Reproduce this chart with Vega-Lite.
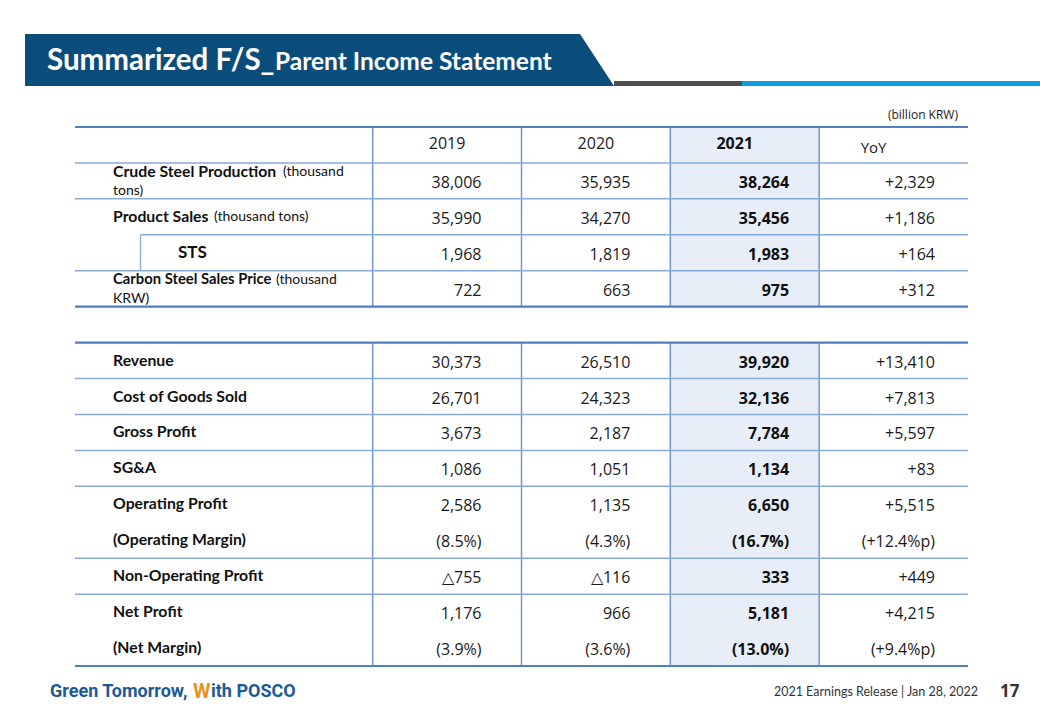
{
"$schema":"https://vega.github.io/schema/vega-lite/v6.json",
"padding":{"left":25,"top":33,"right":0,"bottom":0},
"background":"white",
"spacing":0,
"config":{"view":{"stroke":null},"concat":{"spacing":0}},
"datasets":{
 "rows":[
  {"row":"crude","label":"Crude Steel Production","note":"(thousand","note2":"tons)"},
  {"row":"sales","label":"Product Sales","note":"(thousand tons)","note2":""},
  {"row":"sts","label":"STS","note":"","note2":""},
  {"row":"price","label":"Carbon Steel Sales Price","note":"(thousand","note2":"KRW)"},
  {"row":"rev","label":"Revenue","note":"","note2":""},
  {"row":"cogs","label":"Cost of Goods Sold","note":"","note2":""},
  {"row":"gp","label":"Gross Profit","note":"","note2":""},
  {"row":"sga","label":"SG&A","note":"","note2":""},
  {"row":"op","label":"Operating Profit","note":"","note2":""},
  {"row":"opm","label":"(Operating Margin)","note":"","note2":""},
  {"row":"nop","label":"Non-Operating Profit","note":"","note2":""},
  {"row":"np","label":"Net Profit","note":"","note2":""},
  {"row":"npm","label":"(Net Margin)","note":"","note2":""}
 ],
 "header":[
  {"row":"hdr","col":"2019","value":"2019"},
  {"row":"hdr","col":"2020","value":"2020"},
  {"row":"hdr","col":"2021","value":"2021"},
  {"row":"hdr","col":"YoY","value":"YoY"}
 ],
 "values":[
  {"row":"crude","col":"2019","value":"38,006"},{"row":"crude","col":"2020","value":"35,935"},{"row":"crude","col":"2021","value":"38,264"},{"row":"crude","col":"YoY","value":"+2,329"},
  {"row":"sales","col":"2019","value":"35,990"},{"row":"sales","col":"2020","value":"34,270"},{"row":"sales","col":"2021","value":"35,456"},{"row":"sales","col":"YoY","value":"+1,186"},
  {"row":"sts","col":"2019","value":"1,968"},{"row":"sts","col":"2020","value":"1,819"},{"row":"sts","col":"2021","value":"1,983"},{"row":"sts","col":"YoY","value":"+164"},
  {"row":"price","col":"2019","value":"722"},{"row":"price","col":"2020","value":"663"},{"row":"price","col":"2021","value":"975"},{"row":"price","col":"YoY","value":"+312"},
  {"row":"rev","col":"2019","value":"30,373"},{"row":"rev","col":"2020","value":"26,510"},{"row":"rev","col":"2021","value":"39,920"},{"row":"rev","col":"YoY","value":"+13,410"},
  {"row":"cogs","col":"2019","value":"26,701"},{"row":"cogs","col":"2020","value":"24,323"},{"row":"cogs","col":"2021","value":"32,136"},{"row":"cogs","col":"YoY","value":"+7,813"},
  {"row":"gp","col":"2019","value":"3,673"},{"row":"gp","col":"2020","value":"2,187"},{"row":"gp","col":"2021","value":"7,784"},{"row":"gp","col":"YoY","value":"+5,597"},
  {"row":"sga","col":"2019","value":"1,086"},{"row":"sga","col":"2020","value":"1,051"},{"row":"sga","col":"2021","value":"1,134"},{"row":"sga","col":"YoY","value":"+83"},
  {"row":"op","col":"2019","value":"2,586"},{"row":"op","col":"2020","value":"1,135"},{"row":"op","col":"2021","value":"6,650"},{"row":"op","col":"YoY","value":"+5,515"},
  {"row":"opm","col":"2019","value":"(8.5%)"},{"row":"opm","col":"2020","value":"(4.3%)"},{"row":"opm","col":"2021","value":"(16.7%)"},{"row":"opm","col":"YoY","value":"(+12.4%p)"},
  {"row":"nop","col":"2019","value":"△755"},{"row":"nop","col":"2020","value":"△116"},{"row":"nop","col":"2021","value":"333"},{"row":"nop","col":"YoY","value":"+449"},
  {"row":"np","col":"2019","value":"1,176"},{"row":"np","col":"2020","value":"966"},{"row":"np","col":"2021","value":"5,181"},{"row":"np","col":"YoY","value":"+4,215"},
  {"row":"npm","col":"2019","value":"(3.9%)"},{"row":"npm","col":"2020","value":"(3.6%)"},{"row":"npm","col":"2021","value":"(13.0%)"},{"row":"npm","col":"YoY","value":"(+9.4%p)"}
 ],
 "sections":[{"row":"hdr","last":"price"},{"row":"rev","last":"npm"}],
 "vlines":[
  {"col":"2019","row":"hdr","last":"price"},{"col":"2020","row":"hdr","last":"price"},{"col":"2021","row":"hdr","last":"price"},{"col":"YoY","row":"hdr","last":"price"},
  {"col":"2019","row":"rev","last":"npm"},{"col":"2020","row":"rev","last":"npm"},{"col":"2021","row":"rev","last":"npm"},{"col":"YoY","row":"rev","last":"npm"}
 ],
 "hlines":[
  {"row":"hdr","kind":"thickTop"},{"row":"hdr","kind":"thin"},{"row":"crude","kind":"thin"},{"row":"sales","kind":"sub"},
  {"row":"sts","kind":"thin"},{"row":"price","kind":"thickBottom"},
  {"row":"rev","kind":"thickTop"},{"row":"rev","kind":"thin"},{"row":"cogs","kind":"thin"},{"row":"gp","kind":"thin"},
  {"row":"sga","kind":"thin"},{"row":"opm","kind":"thin"},{"row":"nop","kind":"thin"},{"row":"npm","kind":"thickBottom"}
 ],
 "notes":[
  {"row":"unit","key":"unit","text":"(billion KRW)"},
  {"row":"foot","key":"logoA","text":"Green Tomorrow,"},
  {"row":"foot","key":"logoW","text":"W"},
  {"row":"foot","key":"logoB","text":"ith POSCO"},
  {"row":"foot","key":"release","text":"2021 Earnings Release | Jan 28, 2022"},
  {"row":"foot","key":"page","text":"17"}
 ]
},
"vconcat":[
 {"hconcat":[
   {"width":555,"height":52,"data":{"values":[{"main":"Summarized F/S_","sub":"Parent Income Statement"}]},
    "layer":[
     {"mark":{"type":"rect","color":"#0b4d7a"},"encoding":{}},
     {"mark":{"type":"text","color":"#ffffff","font":"Lato","fontWeight":"bold","fontSize":29.5,"align":"left","baseline":"alphabetic","dx":-255.5,"dy":10},"encoding":{"text":{"field":"main"}}},
     {"mark":{"type":"text","color":"#ffffff","font":"Lato","fontWeight":"bold","fontSize":24.5,"align":"left","baseline":"alphabetic","dx":-27.5,"dy":10},"encoding":{"text":{"field":"sub"}}}
    ]},
   {"width":34,"height":52,"data":{"values":[{"part":"slant"}]},
    "mark":{"type":"point","filled":true,"opacity":1,"color":"#0b4d7a","strokeWidth":0,"shape":"M-1,-1.53L-1,1.53L1,1.53Z","size":1156},"encoding":{}},
   {"vconcat":[
     {"width":128,"height":47,"data":{"values":[{"part":"space"}]},"mark":{"type":"rect","opacity":0},"encoding":{}},
     {"width":128,"height":5,"data":{"values":[{"part":"gray"}]},"mark":{"type":"rect","color":"#4d5050"},"encoding":{}}
    ],"spacing":0},
   {"vconcat":[
     {"width":298,"height":47,"data":{"values":[{"part":"space"}]},"mark":{"type":"rect","opacity":0},"encoding":{}},
     {"width":298,"height":5,"data":{"values":[{"part":"blue"}]},"mark":{"type":"rect","color":"#0ea0dc"},"encoding":{}}
    ],"spacing":0}
  ],"spacing":0},
 {"width":993,"height":619,
  "layer":[
   {"data":{"name":"sections"},"mark":{"type":"rect","color":"#e7eef8"},
    "encoding":{
     "x":{"datum":"2021","type":"nominal","bandPosition":0,"scale":{"type":"band","domain":["item","item_b","2019","2020","2021","YoY"],"paddingInner":0,"paddingOuter":0.336},"axis":null},
     "x2":{"datum":"YoY","bandPosition":0},
     "y":{"field":"row","type":"nominal","bandPosition":0,"scale":{"type":"band","domain":["unit","hdr","crude","sales","sts","price","gap","rev","cogs","gp","sga","op","opm","nop","np","npm","foot"],"paddingInner":0,"paddingOuter":0.113},"axis":null},
     "y2":{"field":"last","bandPosition":1}}},
   {"data":{"name":"vlines"},"mark":{"type":"rule","color":"#6f97cc","strokeWidth":1.5},
    "encoding":{
     "x":{"field":"col","type":"nominal","bandPosition":0,"scale":{"type":"band","domain":["item","item_b","2019","2020","2021","YoY"],"paddingInner":0,"paddingOuter":0.336},"axis":null},
     "y":{"field":"row","type":"nominal","bandPosition":0,"scale":{"type":"band","domain":["unit","hdr","crude","sales","sts","price","gap","rev","cogs","gp","sga","op","opm","nop","np","npm","foot"],"paddingInner":0,"paddingOuter":0.113},"axis":null},
     "y2":{"field":"last","bandPosition":1}}},
   {"data":{"name":"rows"},"transform":[{"filter":"datum.row=='sts'"}],"mark":{"type":"rule","color":"#8fb0dc","strokeWidth":1.5},
    "encoding":{
     "x":{"datum":"item","type":"nominal","bandPosition":0.44,"scale":{"type":"band","domain":["item","item_b","2019","2020","2021","YoY"],"paddingInner":0,"paddingOuter":0.336},"axis":null},
     "y":{"field":"row","type":"nominal","bandPosition":0,"scale":{"type":"band","domain":["unit","hdr","crude","sales","sts","price","gap","rev","cogs","gp","sga","op","opm","nop","np","npm","foot"],"paddingInner":0,"paddingOuter":0.113},"axis":null},
     "y2":{"field":"row","bandPosition":1}}},
   {"data":{"name":"hlines"},"transform":[{"filter":"datum.kind=='thin'"}],"mark":{"type":"rule","color":"#88aad9","strokeWidth":1.5},
    "encoding":{
     "x":{"datum":"item","type":"nominal","bandPosition":0,"scale":{"type":"band","domain":["item","item_b","2019","2020","2021","YoY"],"paddingInner":0,"paddingOuter":0.336},"axis":null},
     "x2":{"datum":"YoY","bandPosition":1},
     "y":{"field":"row","type":"nominal","bandPosition":1,"scale":{"type":"band","domain":["unit","hdr","crude","sales","sts","price","gap","rev","cogs","gp","sga","op","opm","nop","np","npm","foot"],"paddingInner":0,"paddingOuter":0.113},"axis":null}}},
   {"data":{"name":"hlines"},"transform":[{"filter":"datum.kind=='sub'"}],"mark":{"type":"rule","color":"#88aad9","strokeWidth":1.5},
    "encoding":{
     "x":{"datum":"item","type":"nominal","bandPosition":0.44,"scale":{"type":"band","domain":["item","item_b","2019","2020","2021","YoY"],"paddingInner":0,"paddingOuter":0.336},"axis":null},
     "x2":{"datum":"YoY","bandPosition":1},
     "y":{"field":"row","type":"nominal","bandPosition":1,"scale":{"type":"band","domain":["unit","hdr","crude","sales","sts","price","gap","rev","cogs","gp","sga","op","opm","nop","np","npm","foot"],"paddingInner":0,"paddingOuter":0.113},"axis":null}}},
   {"data":{"name":"hlines"},"transform":[{"filter":"datum.kind=='thickTop'"}],"mark":{"type":"rule","color":"#4f7fbd","strokeWidth":2.2},
    "encoding":{
     "x":{"datum":"item","type":"nominal","bandPosition":0,"scale":{"type":"band","domain":["item","item_b","2019","2020","2021","YoY"],"paddingInner":0,"paddingOuter":0.336},"axis":null},
     "x2":{"datum":"YoY","bandPosition":1},
     "y":{"field":"row","type":"nominal","bandPosition":0,"scale":{"type":"band","domain":["unit","hdr","crude","sales","sts","price","gap","rev","cogs","gp","sga","op","opm","nop","np","npm","foot"],"paddingInner":0,"paddingOuter":0.113},"axis":null}}},
   {"data":{"name":"hlines"},"transform":[{"filter":"datum.kind=='thickBottom'"}],"mark":{"type":"rule","color":"#4f7fbd","strokeWidth":2.2},
    "encoding":{
     "x":{"datum":"item","type":"nominal","bandPosition":0,"scale":{"type":"band","domain":["item","item_b","2019","2020","2021","YoY"],"paddingInner":0,"paddingOuter":0.336},"axis":null},
     "x2":{"datum":"YoY","bandPosition":1},
     "y":{"field":"row","type":"nominal","bandPosition":1,"scale":{"type":"band","domain":["unit","hdr","crude","sales","sts","price","gap","rev","cogs","gp","sga","op","opm","nop","np","npm","foot"],"paddingInner":0,"paddingOuter":0.113},"axis":null}}},
   {"data":{"name":"rows"},"transform":[{"filter":"datum.note2=='' && datum.row!='sts'"}],
    "mark":{"type":"text","font":"Lato","fontWeight":"bold","fontSize":15.8,"color":"#111111","align":"left","baseline":"middle","dx":38},
    "encoding":{
     "x":{"datum":"item","type":"nominal","bandPosition":0,"scale":{"type":"band","domain":["item","item_b","2019","2020","2021","YoY"],"paddingInner":0,"paddingOuter":0.336},"axis":null},
     "y":{"field":"row","type":"nominal","scale":{"type":"band","domain":["unit","hdr","crude","sales","sts","price","gap","rev","cogs","gp","sga","op","opm","nop","np","npm","foot"],"paddingInner":0,"paddingOuter":0.113},"axis":null},
     "text":{"field":"label"}}},
   {"data":{"name":"rows"},"transform":[{"filter":"datum.row=='crude'"}],
    "mark":{"type":"text","font":"Lato","fontWeight":"bold","fontSize":15.8,"color":"#111111","align":"left","baseline":"middle","dx":38,"dy":-9},
    "encoding":{
     "x":{"datum":"item","type":"nominal","bandPosition":0,"scale":{"type":"band","domain":["item","item_b","2019","2020","2021","YoY"],"paddingInner":0,"paddingOuter":0.336},"axis":null},
     "y":{"field":"row","type":"nominal","scale":{"type":"band","domain":["unit","hdr","crude","sales","sts","price","gap","rev","cogs","gp","sga","op","opm","nop","np","npm","foot"],"paddingInner":0,"paddingOuter":0.113},"axis":null},
     "text":{"field":"label"}}},
   {"data":{"name":"rows"},"transform":[{"filter":"datum.row=='price'"}],
    "mark":{"type":"text","font":"Lato","fontWeight":"bold","fontSize":14.8,"color":"#111111","align":"left","baseline":"middle","dx":38,"dy":-9},
    "encoding":{
     "x":{"datum":"item","type":"nominal","bandPosition":0,"scale":{"type":"band","domain":["item","item_b","2019","2020","2021","YoY"],"paddingInner":0,"paddingOuter":0.336},"axis":null},
     "y":{"field":"row","type":"nominal","scale":{"type":"band","domain":["unit","hdr","crude","sales","sts","price","gap","rev","cogs","gp","sga","op","opm","nop","np","npm","foot"],"paddingInner":0,"paddingOuter":0.113},"axis":null},
     "text":{"field":"label"}}},
   {"data":{"name":"rows"},"transform":[{"filter":"datum.note2!=''"}],
    "mark":{"type":"text","font":"Lato","fontSize":14,"color":"#111111","align":"left","baseline":"middle","dx":38,"dy":10},
    "encoding":{
     "x":{"datum":"item","type":"nominal","bandPosition":0,"scale":{"type":"band","domain":["item","item_b","2019","2020","2021","YoY"],"paddingInner":0,"paddingOuter":0.336},"axis":null},
     "y":{"field":"row","type":"nominal","scale":{"type":"band","domain":["unit","hdr","crude","sales","sts","price","gap","rev","cogs","gp","sga","op","opm","nop","np","npm","foot"],"paddingInner":0,"paddingOuter":0.113},"axis":null},
     "text":{"field":"note2"}}},
   {"data":{"name":"rows"},"transform":[{"filter":"datum.row=='crude'"}],
    "mark":{"type":"text","font":"Lato","fontSize":14,"color":"#111111","align":"left","baseline":"middle","dx":208,"dy":-9},
    "encoding":{
     "x":{"datum":"item","type":"nominal","bandPosition":0,"scale":{"type":"band","domain":["item","item_b","2019","2020","2021","YoY"],"paddingInner":0,"paddingOuter":0.336},"axis":null},
     "y":{"field":"row","type":"nominal","scale":{"type":"band","domain":["unit","hdr","crude","sales","sts","price","gap","rev","cogs","gp","sga","op","opm","nop","np","npm","foot"],"paddingInner":0,"paddingOuter":0.113},"axis":null},
     "text":{"field":"note"}}},
   {"data":{"name":"rows"},"transform":[{"filter":"datum.row=='sales'"}],
    "mark":{"type":"text","font":"Lato","fontSize":14,"color":"#111111","align":"left","baseline":"middle","dx":139},
    "encoding":{
     "x":{"datum":"item","type":"nominal","bandPosition":0,"scale":{"type":"band","domain":["item","item_b","2019","2020","2021","YoY"],"paddingInner":0,"paddingOuter":0.336},"axis":null},
     "y":{"field":"row","type":"nominal","scale":{"type":"band","domain":["unit","hdr","crude","sales","sts","price","gap","rev","cogs","gp","sga","op","opm","nop","np","npm","foot"],"paddingInner":0,"paddingOuter":0.113},"axis":null},
     "text":{"field":"note"}}},
   {"data":{"name":"rows"},"transform":[{"filter":"datum.row=='price'"}],
    "mark":{"type":"text","font":"Lato","fontSize":14,"color":"#111111","align":"left","baseline":"middle","dx":201,"dy":-9},
    "encoding":{
     "x":{"datum":"item","type":"nominal","bandPosition":0,"scale":{"type":"band","domain":["item","item_b","2019","2020","2021","YoY"],"paddingInner":0,"paddingOuter":0.336},"axis":null},
     "y":{"field":"row","type":"nominal","scale":{"type":"band","domain":["unit","hdr","crude","sales","sts","price","gap","rev","cogs","gp","sga","op","opm","nop","np","npm","foot"],"paddingInner":0,"paddingOuter":0.113},"axis":null},
     "text":{"field":"note"}}},
   {"data":{"name":"rows"},"transform":[{"filter":"datum.row=='sts'"}],
    "mark":{"type":"text","font":"Lato","fontWeight":"bold","fontSize":17,"color":"#111111","align":"left","baseline":"middle","dx":103},
    "encoding":{
     "x":{"datum":"item","type":"nominal","bandPosition":0,"scale":{"type":"band","domain":["item","item_b","2019","2020","2021","YoY"],"paddingInner":0,"paddingOuter":0.336},"axis":null},
     "y":{"field":"row","type":"nominal","scale":{"type":"band","domain":["unit","hdr","crude","sales","sts","price","gap","rev","cogs","gp","sga","op","opm","nop","np","npm","foot"],"paddingInner":0,"paddingOuter":0.113},"axis":null},
     "text":{"field":"label"}}},
   {"data":{"name":"values"},"transform":[{"filter":"datum.col=='2019' || datum.col=='2020'"}],
    "mark":{"type":"text","font":"Open Sans","fontSize":16,"color":"#1a1a1a","align":"right","baseline":"middle","dx":-40,"dy":2},
    "encoding":{
     "x":{"field":"col","type":"nominal","bandPosition":1,"scale":{"type":"band","domain":["item","item_b","2019","2020","2021","YoY"],"paddingInner":0,"paddingOuter":0.336},"axis":null},
     "y":{"field":"row","type":"nominal","scale":{"type":"band","domain":["unit","hdr","crude","sales","sts","price","gap","rev","cogs","gp","sga","op","opm","nop","np","npm","foot"],"paddingInner":0,"paddingOuter":0.113},"axis":null},
     "text":{"field":"value"}}},
   {"data":{"name":"values"},"transform":[{"filter":"datum.col=='2021'"}],
    "mark":{"type":"text","font":"Open Sans","fontWeight":"bold","fontSize":16,"color":"#111111","align":"right","baseline":"middle","dx":-30,"dy":2},
    "encoding":{
     "x":{"field":"col","type":"nominal","bandPosition":1,"scale":{"type":"band","domain":["item","item_b","2019","2020","2021","YoY"],"paddingInner":0,"paddingOuter":0.336},"axis":null},
     "y":{"field":"row","type":"nominal","scale":{"type":"band","domain":["unit","hdr","crude","sales","sts","price","gap","rev","cogs","gp","sga","op","opm","nop","np","npm","foot"],"paddingInner":0,"paddingOuter":0.113},"axis":null},
     "text":{"field":"value"}}},
   {"data":{"name":"values"},"transform":[{"filter":"datum.col=='YoY'"}],
    "mark":{"type":"text","font":"Open Sans","fontSize":16,"color":"#1a1a1a","align":"right","baseline":"middle","dx":-33,"dy":2},
    "encoding":{
     "x":{"field":"col","type":"nominal","bandPosition":1,"scale":{"type":"band","domain":["item","item_b","2019","2020","2021","YoY"],"paddingInner":0,"paddingOuter":0.336},"axis":null},
     "y":{"field":"row","type":"nominal","scale":{"type":"band","domain":["unit","hdr","crude","sales","sts","price","gap","rev","cogs","gp","sga","op","opm","nop","np","npm","foot"],"paddingInner":0,"paddingOuter":0.113},"axis":null},
     "text":{"field":"value"}}},
   {"data":{"name":"header"},"transform":[{"filter":"datum.col=='2019' || datum.col=='2020'"}],
    "mark":{"type":"text","font":"Open Sans","fontSize":16,"color":"#1a1a1a","align":"center","baseline":"middle","dy":-1},
    "encoding":{
     "x":{"field":"col","type":"nominal","bandPosition":0.5,"scale":{"type":"band","domain":["item","item_b","2019","2020","2021","YoY"],"paddingInner":0,"paddingOuter":0.336},"axis":null},
     "y":{"field":"row","type":"nominal","scale":{"type":"band","domain":["unit","hdr","crude","sales","sts","price","gap","rev","cogs","gp","sga","op","opm","nop","np","npm","foot"],"paddingInner":0,"paddingOuter":0.113},"axis":null},
     "text":{"field":"value"}}},
   {"data":{"name":"header"},"transform":[{"filter":"datum.col=='2021'"}],
    "mark":{"type":"text","font":"Open Sans","fontWeight":"bold","fontSize":16,"color":"#111111","align":"center","baseline":"middle","dx":-10,"dy":-1},
    "encoding":{
     "x":{"field":"col","type":"nominal","bandPosition":0.5,"scale":{"type":"band","domain":["item","item_b","2019","2020","2021","YoY"],"paddingInner":0,"paddingOuter":0.336},"axis":null},
     "y":{"field":"row","type":"nominal","scale":{"type":"band","domain":["unit","hdr","crude","sales","sts","price","gap","rev","cogs","gp","sga","op","opm","nop","np","npm","foot"],"paddingInner":0,"paddingOuter":0.113},"axis":null},
     "text":{"field":"value"}}},
   {"data":{"name":"header"},"transform":[{"filter":"datum.col=='YoY'"}],
    "mark":{"type":"text","font":"Open Sans","fontSize":15,"color":"#1a1a1a","align":"center","baseline":"middle","dx":-20,"dy":3},
    "encoding":{
     "x":{"field":"col","type":"nominal","bandPosition":0.5,"scale":{"type":"band","domain":["item","item_b","2019","2020","2021","YoY"],"paddingInner":0,"paddingOuter":0.336},"axis":null},
     "y":{"field":"row","type":"nominal","scale":{"type":"band","domain":["unit","hdr","crude","sales","sts","price","gap","rev","cogs","gp","sga","op","opm","nop","np","npm","foot"],"paddingInner":0,"paddingOuter":0.113},"axis":null},
     "text":{"field":"value"}}},
   {"data":{"name":"notes"},"transform":[{"filter":"datum.key=='unit'"}],
    "mark":{"type":"text","font":"Open Sans","fontSize":12,"color":"#1a1a1a","align":"right","baseline":"middle","dx":-10,"dy":6},
    "encoding":{
     "x":{"datum":"YoY","type":"nominal","bandPosition":1,"scale":{"type":"band","domain":["item","item_b","2019","2020","2021","YoY"],"paddingInner":0,"paddingOuter":0.336},"axis":null},
     "y":{"field":"row","type":"nominal","scale":{"type":"band","domain":["unit","hdr","crude","sales","sts","price","gap","rev","cogs","gp","sga","op","opm","nop","np","npm","foot"],"paddingInner":0,"paddingOuter":0.113},"axis":null},
     "text":{"field":"text"}}},
   {"data":{"name":"notes"},"transform":[{"filter":"datum.key=='logoA'"}],
    "mark":{"type":"text","font":"Roboto","fontWeight":"bold","fontSize":18,"color":"#1c5a96","align":"left","baseline":"middle","dx":-25,"dy":8},
    "encoding":{
     "x":{"datum":"item","type":"nominal","bandPosition":0,"scale":{"type":"band","domain":["item","item_b","2019","2020","2021","YoY"],"paddingInner":0,"paddingOuter":0.336},"axis":null},
     "y":{"field":"row","type":"nominal","scale":{"type":"band","domain":["unit","hdr","crude","sales","sts","price","gap","rev","cogs","gp","sga","op","opm","nop","np","npm","foot"],"paddingInner":0,"paddingOuter":0.113},"axis":null},
     "text":{"field":"text"}}},
   {"data":{"name":"notes"},"transform":[{"filter":"datum.key=='logoW'"}],
    "mark":{"type":"text","font":"Roboto","fontWeight":"bold","fontSize":20,"color":"#e8941e","align":"left","baseline":"middle","dx":118,"dy":8},
    "encoding":{
     "x":{"datum":"item","type":"nominal","bandPosition":0,"scale":{"type":"band","domain":["item","item_b","2019","2020","2021","YoY"],"paddingInner":0,"paddingOuter":0.336},"axis":null},
     "y":{"field":"row","type":"nominal","scale":{"type":"band","domain":["unit","hdr","crude","sales","sts","price","gap","rev","cogs","gp","sga","op","opm","nop","np","npm","foot"],"paddingInner":0,"paddingOuter":0.113},"axis":null},
     "text":{"field":"text"}}},
   {"data":{"name":"notes"},"transform":[{"filter":"datum.key=='logoB'"}],
    "mark":{"type":"text","font":"Roboto","fontWeight":"bold","fontSize":18,"color":"#1c5a96","align":"left","baseline":"middle","dx":136,"dy":8},
    "encoding":{
     "x":{"datum":"item","type":"nominal","bandPosition":0,"scale":{"type":"band","domain":["item","item_b","2019","2020","2021","YoY"],"paddingInner":0,"paddingOuter":0.336},"axis":null},
     "y":{"field":"row","type":"nominal","scale":{"type":"band","domain":["unit","hdr","crude","sales","sts","price","gap","rev","cogs","gp","sga","op","opm","nop","np","npm","foot"],"paddingInner":0,"paddingOuter":0.113},"axis":null},
     "text":{"field":"text"}}},
   {"data":{"name":"notes"},"transform":[{"filter":"datum.key=='release'"}],
    "mark":{"type":"text","font":"Lato","fontSize":12.5,"color":"#333333","align":"right","baseline":"middle","dx":10,"dy":8},
    "encoding":{
     "x":{"datum":"YoY","type":"nominal","bandPosition":1,"scale":{"type":"band","domain":["item","item_b","2019","2020","2021","YoY"],"paddingInner":0,"paddingOuter":0.336},"axis":null},
     "y":{"field":"row","type":"nominal","scale":{"type":"band","domain":["unit","hdr","crude","sales","sts","price","gap","rev","cogs","gp","sga","op","opm","nop","np","npm","foot"],"paddingInner":0,"paddingOuter":0.113},"axis":null},
     "text":{"field":"text"}}},
   {"data":{"name":"notes"},"transform":[{"filter":"datum.key=='page'"}],
    "mark":{"type":"text","font":"Open Sans","fontWeight":"bold","fontSize":17,"color":"#333333","align":"left","baseline":"middle","dx":32,"dy":8},
    "encoding":{
     "x":{"datum":"YoY","type":"nominal","bandPosition":1,"scale":{"type":"band","domain":["item","item_b","2019","2020","2021","YoY"],"paddingInner":0,"paddingOuter":0.336},"axis":null},
     "y":{"field":"row","type":"nominal","scale":{"type":"band","domain":["unit","hdr","crude","sales","sts","price","gap","rev","cogs","gp","sga","op","opm","nop","np","npm","foot"],"paddingInner":0,"paddingOuter":0.113},"axis":null},
     "text":{"field":"text"}}}
  ]}
]
}
